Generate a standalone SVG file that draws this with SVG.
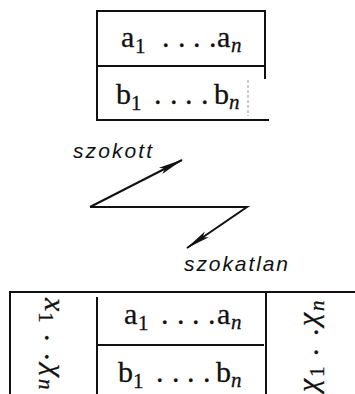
<svg xmlns="http://www.w3.org/2000/svg" width="355" height="394" viewBox="0 0 355 394">
<style>
.ln{stroke:#111;stroke-width:2;fill:none;stroke-linecap:square}
.m{font-family:"Liberation Serif","DejaVu Serif",serif;font-size:30px;fill:#111;stroke:#111;stroke-width:0.3}
.s{font-size:21px}
.i{font-style:italic}
.lab{font-family:"Liberation Sans","DejaVu Sans",sans-serif;font-style:italic;font-size:21px;fill:#111}
.con{stroke:#111;stroke-width:2;fill:none}
</style>
<defs>
<marker id="ah" viewBox="0 0 25 8" refX="24" refY="4" markerWidth="25" markerHeight="8" markerUnits="userSpaceOnUse" orient="auto">
<path d="M0,0.5 L25,4 L0,7.5 L5,4 z" fill="#111"/>
</marker>
</defs>
<g id="table-top">
<path class="ln" d="M97,11 H265 V78 M97,11 V120 H268 M97,66 H265"/>
<path d="M248,80 V116" stroke="#999" stroke-width="1" stroke-dasharray="3,2" fill="none"/>
<text class="m" y="47"><tspan x="121">a</tspan><tspan class="s" x="135" y="53">1</tspan><tspan x="162" y="47">.</tspan><tspan x="178">.</tspan><tspan x="193">.</tspan><tspan x="209">.</tspan><tspan x="217">a</tspan><tspan class="s i" x="231" y="52">n</tspan></text>
<text class="m" y="104"><tspan x="116">b</tspan><tspan class="s" x="131" y="110">1</tspan><tspan x="154" y="104">.</tspan><tspan x="170">.</tspan><tspan x="185">.</tspan><tspan x="201">.</tspan><tspan x="214">b</tspan><tspan class="s i" x="229" y="109">n</tspan></text>
</g>
<g id="connectors">
<path class="con" d="M90,207 L182,160" marker-end="url(#ah)"/>
<path class="con" d="M90,207 H247 L187,248" marker-end="url(#ah)"/>
</g>
<g id="labels">
<text class="lab" x="73" y="158" textLength="79" lengthAdjust="spacing">szokott</text>
<text class="lab" x="184" y="271" textLength="104" lengthAdjust="spacing">szokatlan</text>
</g>
<g id="table-bottom">
<path class="ln" d="M10,292 H354 M10,292 V394 M266,292 V394 M97,345 H263"/>
<path class="ln" d="M97,298 V394" stroke-width="2.5"/>
<text class="m" y="324"><tspan x="124">a</tspan><tspan class="s" x="138" y="330">1</tspan><tspan x="161" y="324">.</tspan><tspan x="177">.</tspan><tspan x="192">.</tspan><tspan x="208">.</tspan><tspan x="217">a</tspan><tspan class="s i" x="231" y="329">n</tspan></text>
<text class="m" y="382"><tspan x="118">b</tspan><tspan class="s" x="133" y="388">1</tspan><tspan x="156" y="382">.</tspan><tspan x="172">.</tspan><tspan x="187">.</tspan><tspan x="203">.</tspan><tspan x="216">b</tspan><tspan class="s i" x="231" y="387">n</tspan></text>
<text class="m" transform="translate(45,298) rotate(90)" y="0"><tspan class="i" x="0">x</tspan><tspan class="s" x="14" y="6">1</tspan><tspan x="36" y="0">.</tspan><tspan x="55">.</tspan><tspan class="i" x="66">χ</tspan><tspan class="s i" x="81" y="6">n</tspan></text>
<text class="m" transform="translate(318,392) rotate(-90)" y="0"><tspan class="i" x="0">χ</tspan><tspan class="s" x="15" y="6">1</tspan><tspan x="36" y="0">.</tspan><tspan x="56">.</tspan><tspan class="i" x="66">χ</tspan><tspan class="s i" x="81" y="6">n</tspan></text>
</g>
</svg>
